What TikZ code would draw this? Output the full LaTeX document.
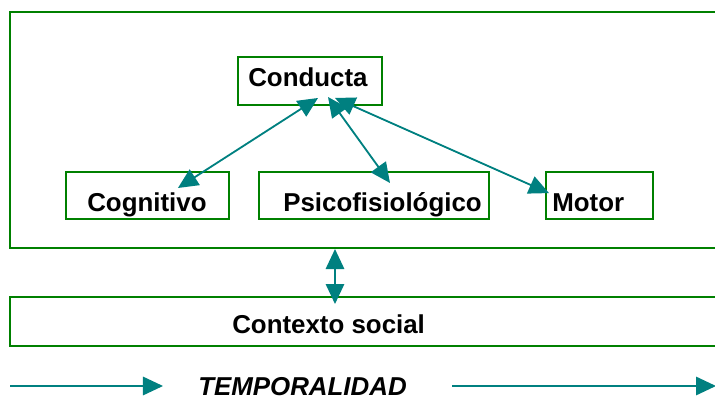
\documentclass[tikz,border=0pt]{standalone}
\usepackage{fontspec}
\setmainfont{Liberation Sans}
\usetikzlibrary{arrows.meta,positioning}
\definecolor{verde}{RGB}{0,128,0}
\definecolor{teal}{RGB}{0,128,128}
\tikzset{
    caja/.style={draw=verde, line width=1.4pt, minimum width=#1},
    txt/.style={inner sep=0pt, anchor=base west, font=\fontsize{18.4}{22}\selectfont\bfseries},
    flecha/.style={draw=teal, line width=1.3pt,
        {Triangle[length=0.5cm,width=0.46cm]}-{Triangle[length=0.5cm,width=0.46cm]}},
    tiempo/.style={draw=teal, line width=1.3pt, -{Triangle[length=0.5cm,width=0.46cm]}}
}
\begin{document}
\begin{tikzpicture}[x=0.025cm, y=-0.025cm]
\useasboundingbox (0,0) rectangle (715,398);
                        \node[caja=17.8cm, minimum height=5.9cm] (marco) at (366,130) {};
                        \node[caja=3.6cm, minimum height=1.2cm] (cond) at (310,81) {};
                        \node[caja=4.075cm, minimum height=1.175cm] (cogn) at (147.5,195.5) {};
                        \node[caja=5.75cm, minimum height=1.175cm] (psico) at (374,195.5) {};
                        \node[caja=2.675cm, minimum height=1.175cm] (motor) at (599.5,195.5) {};
                        \node[caja=17.8cm, minimum height=1.225cm] (ctx) at (366,321.5) {};
                        \node[txt] (tcond) at (248,87) {Conducta};
                        \node[txt] (tcogn) at (87,212) {Cognitivo};
                        \node[txt] (tpsico) at (283,212) {Psicofisiológico};
                        \node[txt] (tmotor) at (552,212) {Motor};
                        \node[txt] (tctx) at (232,334) {Contexto social};
                        \node[txt, text depth=0pt, font=\fontsize{18.4}{22}\selectfont\bfseries\itshape] (ttemp) at (198,395) {TEMPORALIDAD};
                        \coordinate (t0) at (10,386);
                        \coordinate (t1) at (163,386);
                        \coordinate (t2) at (452,386);
                        \coordinate (t3) at (716,386);
                        \draw
                        ([xshift=0.2cm,yshift=0.2cm]cond.south) edge[flecha] ([xshift=0.76cm,yshift=-0.425cm]cogn.north)
                        ([xshift=0.45cm,yshift=0.225cm]cond.south) edge[flecha] ([xshift=0.4cm,yshift=-0.3cm]psico.north)
                        ([xshift=0.625cm,yshift=0.2cm]cond.south) edge[flecha] ([xshift=0.1cm,yshift=0.06cm]motor.west)
                        ([xshift=-0.775cm]marco.south) edge[flecha] ([xshift=-0.775cm,yshift=-0.2cm]ctx.north)
                        (t0) edge[tiempo] (t1)
                        (t2) edge[tiempo] (t3);
                    \end{tikzpicture}
\end{document}
